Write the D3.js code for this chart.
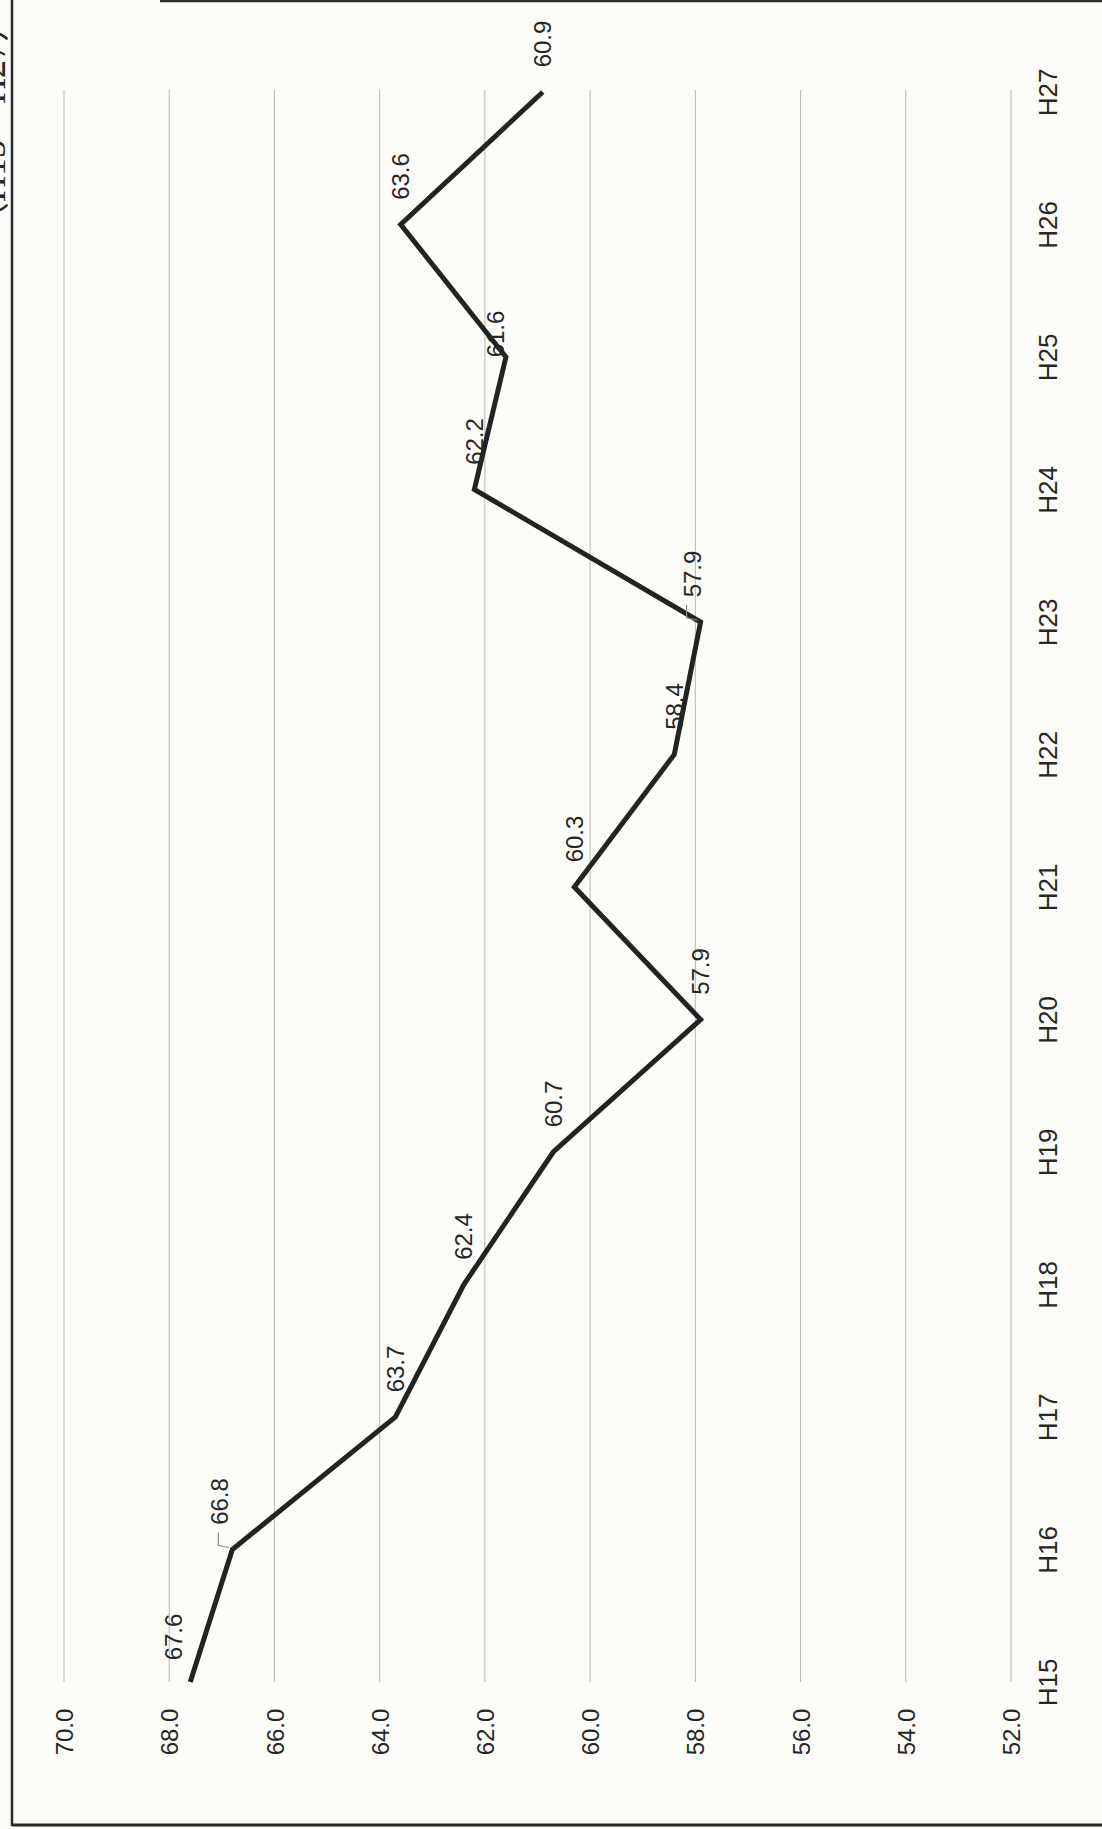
<!DOCTYPE html>
<html>
<head>
<meta charset="utf-8">
<script src="https://cdn.jsdelivr.net/npm/d3@7"></script>
<style>
  html, body { margin: 0; padding: 0; background: #fcfcf8; }
  svg { display: block; }
  text { font-family: "Liberation Sans", Arial, sans-serif; fill: #262626; }
</style>
</head>
<body>
<script>
// ---- data ----
const categories = ["H15","H16","H17","H18","H19","H20","H21","H22","H23","H24","H25","H26","H27"];
const values = [67.6, 66.8, 63.7, 62.4, 60.7, 57.9, 60.3, 58.4, 57.9, 62.2, 61.6, 63.6, 60.9];
const valueTicks = [70, 68, 66, 64, 62, 60, 58, 56, 54, 52];
const titleText = "（H15～H27）";
// manual label nudges [along value axis, along category axis] (layout only)
const labelNudge = [[-17,3],[-13,0],[0,0],[0,0],[0,0],[0,0],[0,0],[0,0],[-8,0],[0,0],[-11,25],[0,0],[0,0]];
const leaderIdx = [1, 8];

const W = 1102, H = 1829;
const svg = d3.select("body").append("svg").attr("width", W).attr("height", H);

svg.append("rect").attr("width", W).attr("height", H).attr("fill", "#fcfcf8");

// scales (chart is rotated: values run horizontally, categories vertically)
const x = d3.scaleLinear().domain([70, 52]).range([64, 1011]);
const y = d3.scalePoint().domain(categories).range([1682, 92]);

// gridlines
svg.append("g").selectAll("line").data(valueTicks).join("line")
  .attr("x1", d => x(d)).attr("x2", d => x(d))
  .attr("y1", 90).attr("y2", 1682)
  .attr("stroke", "#b8b8b4").attr("stroke-width", 1);

// value axis labels
const vAxis = svg.append("g").attr("transform", "translate(0,1732)")
  .call(d3.axisBottom(x).tickValues(valueTicks).tickFormat(d3.format(".1f")).tickSize(0).tickPadding(0));
vAxis.select(".domain").remove();
vAxis.selectAll("text")
  .attr("x", 0).attr("y", 0).attr("dy", "0.36em")
  .attr("transform", "rotate(-90)")
  .attr("text-anchor", "middle")
  .style("font-size", "24px").style("font-family", "'Liberation Sans', Arial, sans-serif").attr("fill", "#262626");

// category axis labels
const cAxis = svg.append("g").attr("transform", "translate(1048,0)")
  .call(d3.axisRight(y).tickSize(0).tickPadding(0));
cAxis.select(".domain").remove();
cAxis.selectAll("text")
  .attr("x", 0).attr("y", 0).attr("dy", "0.36em")
  .attr("transform", "rotate(-90)")
  .attr("text-anchor", "middle")
  .style("font-size", "26px").style("font-family", "'Liberation Sans', Arial, sans-serif").attr("fill", "#262626");

// line
const pts = categories.map((c, i) => ({c, v: values[i], i}));
const line = d3.line().x(d => x(d.v)).y(d => y(d.c));
svg.append("path").datum(pts)
  .attr("d", line)
  .attr("fill", "none").attr("stroke", "#232323").attr("stroke-width", 5)
  .attr("stroke-linejoin", "miter");

// leader lines
svg.append("g").selectAll("path").data(leaderIdx.map(i => pts[i])).join("path")
  .attr("d", d => {
    const px = x(d.v), py = y(d.c);
    return `M${px-14},${py-17} L${px-14},${py-4} L${px-3},${py-2}`;
  })
  .attr("fill", "none").attr("stroke", "#8a8a8a").attr("stroke-width", 1.2);

// data labels
svg.append("g").selectAll("g").data(pts).join("g")
  .attr("transform", d => `translate(${x(d.v) + labelNudge[d.i][0]},${y(d.c) - 48 + labelNudge[d.i][1]})`)
  .append("text")
  .attr("transform", "rotate(-90)")
  .attr("text-anchor", "middle").attr("dy", "0.36em")
  .style("font-size", "24px")
  .text(d => d3.format(".1f")(d.v));

// frame (scanned page border)
svg.append("line").attr("x1", 12).attr("x2", 12).attr("y1", 0).attr("y2", 1826)
  .attr("stroke", "#2a2a2a").attr("stroke-width", 2.5);
svg.append("line").attr("x1", 160).attr("x2", W).attr("y1", 1).attr("y2", 1)
  .attr("stroke", "#2a2a2a").attr("stroke-width", 2.5);
svg.append("line").attr("x1", 12).attr("x2", W).attr("y1", 1825).attr("y2", 1825)
  .attr("stroke", "#2a2a2a").attr("stroke-width", 3);

// clipped title sliver at far left
svg.append("g").attr("transform", "translate(5,238)")
  .append("text").attr("transform", "rotate(-90)")
  .style("font-family", "'Liberation Serif', 'Noto Sans CJK JP', serif")
  .style("font-size", "36px")
  .text(titleText);
</script>
</body>
</html>
